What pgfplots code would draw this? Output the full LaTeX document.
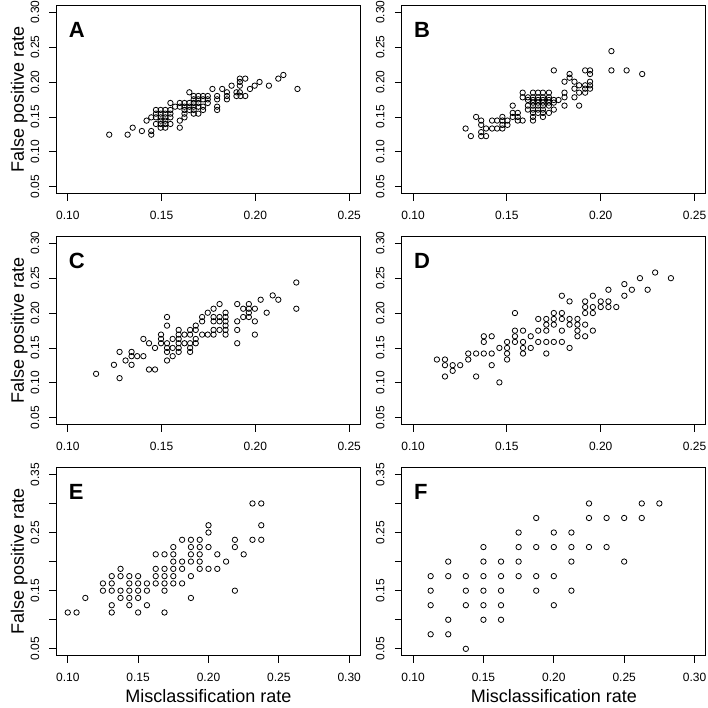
\documentclass[border=0pt]{standalone}
\usepackage{fontspec}
\setmainfont{Liberation Sans}
\usepackage{pgfplots}
\pgfplotsset{compat=1.18}
\pgfplotsset{
  panel/.style={
    scale only axis, width=304pt, height=188.4pt, anchor=north west, clip=false,
    tick align=outside, major tick length=7pt,
    xtick pos=left, ytick pos=left,
    axis line style={line width=0.8pt, black},
    tick style={black, line width=0.8pt},
    tick label style={font=\fontsize{12}{12}\selectfont},
    xticklabel style={anchor=north, inner sep=0pt},
    yticklabel style={rotate=90, anchor=south, inner sep=0pt},
    xticklabel shift=10pt, yticklabel shift=10pt,
    xmin=0.094, xmax=0.256, ymin=0.04, ymax=0.31,
    xtick={0.10,0.15,0.20,0.25}, xticklabels={0.10,0.15,0.20,0.25},
    ytick={0.05,0.10,0.15,0.20,0.25,0.30}, yticklabels={0.05,0.10,0.15,0.20,0.25,0.30},
    ylabel style={at={(axis description cs:-0.107,0.5)}, anchor=base, inner sep=0pt, font=\fontsize{18}{18}\selectfont},
    xlabel style={at={(axis description cs:0.5,-0.25)}, anchor=base, inner sep=0pt, font=\fontsize{18}{18}\selectfont},
  },
  wide/.style={
    xmin=0.092, xmax=0.308, ymin=0.038, ymax=0.362,
    xtick={0.10,0.15,0.20,0.25,0.30}, xticklabels={0.10,0.15,0.20,0.25,0.30},
    ytick={0.05,0.10,0.15,0.20,0.25,0.30,0.35}, yticklabels={0.05,,0.15,,0.25,,0.35},
  },
  pts/.style={only marks, mark=o, mark size=2.7pt, mark options={line width=0.8pt, black}},
}
\newcommand{\panellabel}[1]{\node[anchor=base west, inner sep=0pt, font=\bfseries\fontsize{22}{22}\selectfont] at (rel axis cs:0.04,0.83) {#1};}
\newcommand{\mkticks}[4]{%
  \pgfplotsinvokeforeach{#1}{\draw[line width=0.8pt, black] (axis cs:##1,#2) -- ++(0pt,-7pt);}%
  \pgfplotsinvokeforeach{#3}{\draw[line width=0.8pt, black] (axis cs:#4,##1) -- ++(-7pt,0pt);}%
}
\newcommand{\ticksAD}{\mkticks{0.10,0.15,0.20,0.25}{0.04}{0.05,0.10,0.15,0.20,0.25,0.30}{0.094}}
\newcommand{\ticksEF}{\mkticks{0.10,0.15,0.20,0.25,0.30}{0.038}{0.05,0.10,0.15,0.20,0.25,0.30,0.35}{0.092}}
\begin{document}
\begin{tikzpicture}
\path (0,0) rectangle (708pt,708pt);
% A
\begin{axis}[panel, at={(56.5pt,702.7pt)}, ylabel={False positive rate}]
\addplot[pts] coordinates {
(0.2149,0.2101)
(0.2122,0.2049)(0.1917,0.2049)(0.1946,0.2049)
(0.2022,0.2001)(0.1917,0.2001)
(0.1996,0.1948)(0.2072,0.1948)(0.1873,0.1948)(0.1917,0.1948)
(0.1771,0.1901)(0.1823,0.1901)(0.1971,0.1901)(0.2224,0.1901)
(0.1648,0.1853)(0.1848,0.1853)(0.1899,0.1853)(0.1917,0.1853)
(0.1671,0.18)(0.1696,0.18)(0.1721,0.18)(0.1746,0.18)(0.1796,0.18)(0.1848,0.18)(0.1899,0.18)(0.1946,0.18)(0.1921,0.18)
(0.1671,0.1752)(0.1696,0.1752)(0.1721,0.1752)(0.1746,0.1752)(0.1796,0.1752)(0.1848,0.1752)
(0.1547,0.17)(0.1597,0.17)(0.1622,0.17)(0.1648,0.17)(0.1671,0.17)(0.1696,0.17)(0.1746,0.17)
(0.1572,0.1647)(0.1597,0.1647)(0.1622,0.1647)(0.1648,0.1647)(0.1671,0.1647)(0.1696,0.1647)(0.1721,0.1647)(0.1796,0.1647)
(0.147,0.16)(0.1495,0.16)(0.152,0.16)(0.1547,0.16)(0.1622,0.16)(0.1648,0.16)(0.1671,0.16)(0.1721,0.16)(0.1796,0.16)
(0.147,0.1547)(0.1495,0.1547)(0.152,0.1547)(0.1547,0.1547)(0.1622,0.1547)(0.1671,0.1547)(0.1696,0.1547)
(0.1445,0.1494)(0.147,0.1494)(0.1495,0.1494)(0.152,0.1494)(0.1547,0.1494)(0.1622,0.1494)
(0.142,0.1447)(0.1495,0.1447)(0.152,0.1447)(0.1597,0.1447)
(0.147,0.1399)(0.1495,0.1399)(0.152,0.1399)(0.1547,0.1399)
(0.1346,0.1346)(0.1495,0.1346)(0.152,0.1346)(0.1597,0.1346)
(0.1395,0.1298)(0.1445,0.1298)
(0.1221,0.1246)(0.1319,0.1246)(0.1445,0.1246)
};
\ticksAD
\panellabel{A}
\end{axis}
% B
\begin{axis}[panel, at={(401.8pt,702.7pt)}]
\addplot[pts] coordinates {
(0.2057,0.2443)
(0.175,0.2167)(0.1917,0.2167)(0.1943,0.2167)(0.2057,0.2167)(0.2138,0.2167)
(0.1834,0.2115)(0.1943,0.2115)(0.2221,0.2115)
(0.1834,0.2062)
(0.1807,0.2005)(0.186,0.2005)(0.1943,0.2005)
(0.1885,0.1953)(0.1917,0.1953)(0.1943,0.1953)
(0.186,0.1905)(0.1917,0.1905)(0.1943,0.1905)
(0.1584,0.1848)(0.1639,0.1848)(0.1666,0.1848)(0.1692,0.1848)(0.1724,0.1848)(0.1807,0.1848)(0.1885,0.1848)(0.1917,0.1848)
(0.1584,0.1781)(0.1612,0.1781)(0.1639,0.1781)(0.1666,0.1781)(0.1692,0.1781)(0.1724,0.1781)(0.1807,0.1781)(0.186,0.1781)
(0.1612,0.1743)(0.1639,0.1743)(0.1666,0.1743)(0.1692,0.1743)(0.1724,0.1743)(0.175,0.1743)(0.1775,0.1743)
(0.1639,0.1705)(0.1666,0.1705)(0.1692,0.1705)(0.1724,0.1705)(0.175,0.1705)
(0.1531,0.1662)(0.1612,0.1662)(0.1639,0.1662)(0.1666,0.1662)(0.1692,0.1662)(0.1724,0.1662)(0.1807,0.1662)(0.1885,0.1662)
(0.1612,0.1605)(0.1639,0.1605)(0.1666,0.1605)(0.1692,0.1605)(0.175,0.1605)
(0.1531,0.1558)(0.1558,0.1558)(0.1639,0.1558)(0.1666,0.1558)(0.1692,0.1558)(0.1724,0.1558)
(0.1336,0.15)(0.1476,0.15)(0.1531,0.15)(0.1558,0.15)(0.1639,0.15)(0.1692,0.15)
(0.1363,0.1448)(0.1421,0.1448)(0.1448,0.1448)(0.1476,0.1448)(0.1503,0.1448)(0.1558,0.1448)(0.1584,0.1448)(0.1639,0.1448)
(0.1363,0.1386)(0.1476,0.1386)(0.1503,0.1386)
(0.128,0.1334)(0.1389,0.1334)(0.1421,0.1334)(0.1448,0.1334)(0.1476,0.1334)
(0.1363,0.1282)
(0.1308,0.1225)(0.1363,0.1225)(0.1389,0.1225)
};
\ticksAD
\panellabel{B}
\end{axis}
% C
\begin{axis}[panel, at={(56.5pt,471.7pt)}, ylabel={False positive rate}]
\addplot[pts] coordinates {
(0.2218,0.2438)(0.2218,0.2062)
(0.2122,0.2191)(0.2092,0.2253)(0.206,0.2005)(0.2028,0.2191)
(0.1997,0.2062)(0.1997,0.1881)(0.1997,0.1691)
(0.1965,0.2129)(0.1965,0.2062)(0.1965,0.2005)(0.1965,0.1943)
(0.1935,0.2062)(0.1935,0.1943)
(0.1903,0.2129)(0.1903,0.1881)(0.1903,0.1758)(0.1903,0.1567)
(0.1841,0.2005)(0.1841,0.1943)(0.1841,0.1881)(0.1841,0.182)(0.1841,0.1758)(0.1841,0.1691)
(0.1809,0.2129)(0.1809,0.1943)(0.1809,0.1881)(0.1809,0.1758)
(0.1777,0.2062)(0.1777,0.1943)(0.1777,0.1881)(0.1777,0.1758)(0.1777,0.1691)
(0.1746,0.2005)(0.1746,0.1691)
(0.1716,0.1943)(0.1716,0.1881)(0.1716,0.1691)
(0.1682,0.182)(0.1682,0.1758)(0.1682,0.1629)(0.1682,0.1567)
(0.1652,0.1758)(0.1652,0.1691)(0.1652,0.1567)(0.1652,0.15)(0.1652,0.1443)
(0.1622,0.1691)(0.1622,0.1567)
(0.1591,0.1758)(0.1591,0.1691)(0.1591,0.1629)(0.1591,0.1567)(0.1591,0.15)(0.1591,0.1443)
(0.1559,0.1629)(0.1559,0.15)(0.1559,0.1382)
(0.1529,0.1943)(0.1529,0.182)(0.1529,0.1567)(0.1529,0.15)(0.1529,0.1443)(0.1529,0.132)
(0.1497,0.1691)(0.1497,0.1629)(0.1497,0.1567)
(0.1465,0.15)(0.1465,0.1191)
(0.1433,0.1567)(0.1433,0.1191)
(0.1403,0.1629)(0.1403,0.1382)
(0.137,0.1382)
(0.134,0.1443)(0.134,0.1382)(0.134,0.1258)
(0.1308,0.132)
(0.1276,0.1443)(0.1276,0.1067)
(0.1246,0.1258)
(0.1151,0.1129)
};
\ticksAD
\panellabel{C}
\end{axis}
% D
\begin{axis}[panel, at={(401.8pt,471.7pt)}]
\addplot[pts] coordinates {
(0.1127,0.1334)
(0.117,0.1334)(0.117,0.1253)(0.117,0.1091)
(0.1211,0.1253)(0.1211,0.1172)
(0.1251,0.1253)
(0.1294,0.142)(0.1294,0.1334)
(0.1336,0.142)(0.1336,0.1091)
(0.1377,0.1667)(0.1377,0.1586)(0.1377,0.142)
(0.1419,0.1667)(0.1419,0.142)(0.1419,0.1253)
(0.146,0.15)(0.146,0.1006)
(0.1501,0.1586)(0.1501,0.15)(0.1501,0.142)(0.1501,0.1334)
(0.1543,0.2)(0.1543,0.1748)(0.1543,0.1667)(0.1543,0.1586)
(0.1586,0.1748)(0.1586,0.1586)(0.1586,0.15)(0.1586,0.142)
(0.1627,0.1667)(0.1627,0.15)
(0.1667,0.1915)(0.1667,0.1748)(0.1667,0.1586)
(0.171,0.1915)(0.171,0.1834)(0.171,0.1748)(0.171,0.1586)(0.171,0.142)
(0.175,0.2)(0.175,0.1915)(0.175,0.1834)(0.175,0.1586)
(0.1793,0.2248)(0.1793,0.2)(0.1793,0.1915)(0.1793,0.1748)(0.1793,0.1586)
(0.1834,0.2167)(0.1834,0.1915)(0.1834,0.1834)(0.1834,0.15)
(0.1876,0.1915)(0.1876,0.1834)(0.1876,0.1748)(0.1876,0.1667)
(0.1917,0.2167)(0.1917,0.2086)(0.1917,0.2)(0.1917,0.1834)(0.1917,0.1667)
(0.1958,0.2248)(0.1958,0.2086)(0.1958,0.2)(0.1958,0.1748)
(0.2,0.2167)(0.2,0.2086)
(0.2041,0.2334)(0.2041,0.2167)(0.2041,0.2086)
(0.2083,0.2086)
(0.2126,0.2415)(0.2126,0.2248)
(0.2166,0.2334)
(0.2209,0.25)
(0.225,0.2334)
(0.229,0.2581)
(0.2374,0.25)
};
\ticksAD
\panellabel{D}
\end{axis}
% E
\begin{axis}[panel, wide, at={(56.5pt,240.6pt)}, ylabel={False positive rate}, xlabel={Misclassification rate}]
\addplot[pts] coordinates {
(0.23125,0.30)(0.2375,0.30)
(0.20,0.2625)(0.2375,0.2625)
(0.20,0.25)
(0.18125,0.2375)(0.1875,0.2375)(0.19375,0.2375)(0.21875,0.2375)(0.23125,0.2375)(0.2375,0.2375)
(0.175,0.225)(0.1875,0.225)(0.19375,0.225)(0.20,0.225)(0.21875,0.225)
(0.1625,0.2125)(0.16875,0.2125)(0.175,0.2125)(0.1875,0.2125)(0.19375,0.2125)(0.20625,0.2125)(0.225,0.2125)
(0.175,0.20)(0.18125,0.20)(0.1875,0.20)(0.19375,0.20)(0.2125,0.20)
(0.1375,0.1875)(0.1625,0.1875)(0.16875,0.1875)(0.175,0.1875)(0.18125,0.1875)(0.19375,0.1875)(0.20,0.1875)(0.20625,0.1875)
(0.13125,0.175)(0.1375,0.175)(0.14375,0.175)(0.15,0.175)(0.1625,0.175)(0.16875,0.175)(0.175,0.175)(0.1875,0.175)
(0.125,0.1625)(0.13125,0.1625)(0.14375,0.1625)(0.15,0.1625)(0.15625,0.1625)(0.1625,0.1625)(0.16875,0.1625)(0.175,0.1625)(0.18125,0.1625)
(0.125,0.15)(0.13125,0.15)(0.1375,0.15)(0.14375,0.15)(0.15,0.15)(0.15625,0.15)(0.16875,0.15)(0.21875,0.15)
(0.1125,0.1375)(0.1375,0.1375)(0.14375,0.1375)(0.15,0.1375)(0.1875,0.1375)
(0.13125,0.125)(0.14375,0.125)(0.15625,0.125)
(0.10,0.1125)(0.10625,0.1125)(0.13125,0.1125)(0.15,0.1125)(0.16875,0.1125)
};
\ticksEF
\panellabel{E}
\end{axis}
% F
\begin{axis}[panel, wide, at={(401.8pt,240.6pt)}, xlabel={Misclassification rate}]
\addplot[pts] coordinates {
(0.225,0.30)(0.2625,0.30)(0.275,0.30)
(0.1875,0.275)(0.225,0.275)(0.2375,0.275)(0.25,0.275)(0.2625,0.275)
(0.175,0.25)(0.20,0.25)(0.2125,0.25)
(0.15,0.225)(0.175,0.225)(0.1875,0.225)(0.20,0.225)(0.2125,0.225)(0.225,0.225)(0.2375,0.225)
(0.125,0.20)(0.15,0.20)(0.1625,0.20)(0.175,0.20)(0.2125,0.20)(0.25,0.20)
(0.1125,0.175)(0.125,0.175)(0.1375,0.175)(0.15,0.175)(0.1625,0.175)(0.175,0.175)(0.1875,0.175)(0.20,0.175)
(0.1125,0.15)(0.1375,0.15)(0.15,0.15)(0.1625,0.15)(0.1875,0.15)(0.2125,0.15)
(0.1125,0.125)(0.1375,0.125)(0.15,0.125)(0.1625,0.125)(0.20,0.125)
(0.125,0.10)(0.15,0.10)(0.1625,0.10)
(0.1125,0.075)(0.125,0.075)
(0.1375,0.05)
};
\ticksEF
\panellabel{F}
\end{axis}
\end{tikzpicture}
\end{document}
